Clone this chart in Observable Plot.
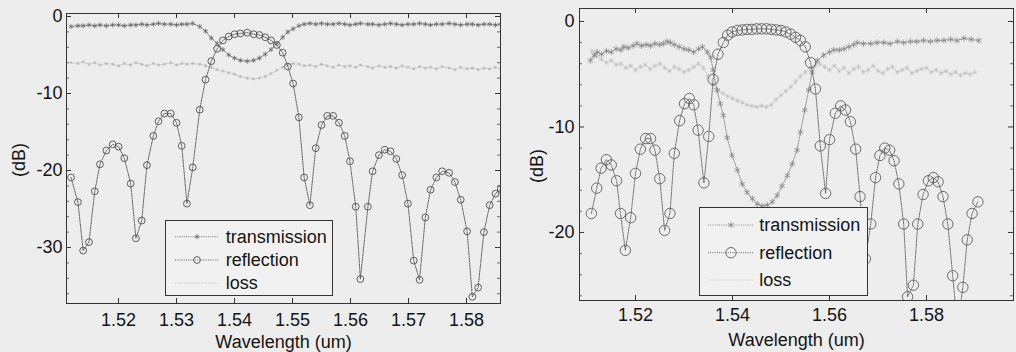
<!DOCTYPE html>
<html><head><meta charset="utf-8">
<script src="https://cdn.jsdelivr.net/npm/d3@7"></script>
<script src="https://cdn.jsdelivr.net/npm/@observablehq/plot@0.6"></script>
<style>
body{margin:0;background:#ededed;}
#wrap{position:relative;width:1016px;height:352px;background:#ededed;overflow:hidden;font-family:"Liberation Sans",Arial,sans-serif;}
#wrap svg{position:absolute;top:0;}
</style></head><body><div id="wrap"></div>
<script>
// ---------- LEFT PANEL DATA ----------
const wavelengthL = [1.5118,1.5130,1.5139,1.5149,1.5159,1.5168,1.5179,1.5190,1.5200,1.5210,1.5221,1.5230,1.5240,1.5249,1.5260,1.5269,1.5279,1.5290,1.5300,1.5309,1.5318,1.5328,
  1.5340,1.5350,1.5360,1.5370,1.5380,1.5390,1.5400,1.5410,1.5422,1.5433,1.5443,1.5453,1.5463,1.5473,1.5483,1.5492,1.5501,
  1.5511,1.5520,1.5530,1.5540,1.5550,1.5560,1.5570,1.5580,1.5590,1.5599,1.5609,1.5617,1.5630,1.5638,1.5649,1.5659,1.5669,1.5679,1.5689,1.5699,1.5709,1.5719,1.5729,1.5738,1.5748,1.5758,1.5770,1.5780,1.5790,1.5801,1.5810,1.5820,1.5830,1.5840,1.5850,1.5859];
const transmissionL = [-1.3,-1.2,-1.2,-1.1,-1.2,-1.1,-1.2,-1.1,-1.1,-1.2,-1.1,-1.1,-1.0,-1.1,-1.0,-0.9,-1.0,-1.0,-1.1,-1.0,-1.0,-0.9,
  -1.3,-1.9,-2.8,-3.5,-4.3,-5.0,-5.4,-5.7,-5.8,-5.7,-5.4,-4.9,-4.3,-3.5,-2.7,-2.0,-1.6,
  -1.2,-1.0,-0.9,-1.0,-0.9,-1.0,-1.0,-0.9,-1.0,-1.1,-1.0,-0.9,-1.0,-1.0,-1.1,-1.0,-0.9,-1.0,-1.1,-1.0,-1.0,-0.9,-1.0,-1.1,-1.0,-1.0,-0.9,-1.0,-1.1,-1.0,-1.0,-1.1,-1.0,-1.0,-1.1,-1.0];
const reflectionL = [-20.9,-24.1,-30.4,-29.3,-22.7,-19.2,-17.4,-16.6,-16.9,-18.4,-21.7,-28.8,-26.5,-19.3,-15.5,-13.6,-12.6,-12.6,-13.8,-16.8,-24.3,-19.6,
  -12.1,-8.2,-5.8,-4.2,-3.1,-2.6,-2.3,-2.2,-2.1,-2.3,-2.4,-2.7,-3.1,-3.7,-4.7,-6.5,-8.7,
  -13.1,-20.9,-24.5,-17.1,-14.1,-12.9,-12.9,-13.8,-15.5,-18.8,-24.7,-34.1,-24.7,-20.1,-18.0,-17.3,-17.5,-18.5,-20.6,-24.3,-31.7,-34.2,-26.1,-22.5,-20.9,-20.1,-20.3,-21.5,-23.8,-27.9,-36.4,-35.2,-28.0,-24.5,-23.0,-22.4];
const lossL = [-6.0,-6.1,-5.9,-6.2,-6.0,-6.3,-6.1,-6.2,-6.4,-6.1,-6.3,-6.0,-6.2,-6.4,-6.1,-6.3,-6.2,-6.0,-6.3,-6.1,-6.2,-6.1,
  -6.2,-6.4,-6.6,-6.9,-7.1,-7.3,-7.5,-7.8,-8.0,-8.1,-8.0,-7.8,-7.4,-7.0,-6.6,-6.3,-6.1,
  -6.2,-6.4,-6.3,-6.5,-6.2,-6.4,-6.6,-6.3,-6.5,-6.4,-6.6,-6.3,-6.5,-6.7,-6.4,-6.6,-6.5,-6.7,-6.4,-6.6,-6.8,-6.5,-6.7,-6.6,-6.8,-6.5,-6.7,-6.9,-6.6,-6.8,-6.7,-6.9,-6.7,-6.8,-6.6,-6.8];
const xTicksL = [1.52,1.53,1.54,1.55,1.56,1.57,1.58];
const yTicksL = [0,-10,-20,-30];
const yMinorL = [-2,-4,-6,-8,-12,-14,-16,-18,-22,-24,-26,-28,-32,-34,-36];

// ---------- RIGHT PANEL DATA ----------
const wavelengthRr = [1.5109,1.5120,1.5129,1.5140,1.5150,1.5161,1.5169,1.5179,1.5190,1.5200,1.5210,1.5221,1.5231,1.5240,1.5250,1.5260,1.5271,1.5280,1.5291,1.5301,
  1.5311,1.5320,1.5329,1.5341,1.5351,1.5360,1.5370,1.5381,1.5390,1.5399,1.5410,1.5420,1.5430,1.5440,1.5450,1.5460,1.5470,1.5480,1.5490,1.5500,
  1.5510,1.5520,1.5530,1.5540,1.5550,1.5561,1.5571,1.5581,1.5592,1.5600,1.5612,1.5623,1.5633,1.5643,1.5654,1.5663,1.5674,1.5685,1.5695,1.5704,
  1.5714,1.5724,1.5733,1.5743,1.5753,1.5761,1.5773,1.5782,1.5793,1.5804,1.5814,1.5824,1.5834,1.5844,1.5854,1.5864,1.5875,1.5884,1.5894,1.5906];
const reflectionR = [-18.2,-15.8,-13.9,-13.1,-13.6,-15.1,-18.2,-21.7,-18.6,-14.4,-12.1,-11.1,-11.1,-12.2,-14.9,-19.8,-18.2,-12.5,-9.4,-7.8,
  -7.3,-7.9,-10.3,-15.3,-10.9,-5.5,-3.1,-2.0,-1.3,-1.0,-0.85,-0.8,-0.75,-0.75,-0.7,-0.7,-0.7,-0.75,-0.8,-0.85,
  -1.0,-1.2,-1.5,-1.8,-2.4,-3.9,-6.4,-11.8,-16.3,-11.2,-8.7,-8.0,-8.4,-9.5,-12.1,-16.6,-22.5,-19.2,-14.8,-12.7,
  -12.0,-12.2,-13.2,-15.4,-19.2,-26.1,-25.0,-19.2,-16.4,-15.1,-14.8,-15.2,-16.6,-19.2,-24.1,-29.0,-25.2,-20.7,-18.2,-17.1];
const wavelengthRt = [1.5107,1.5115,1.5121,1.5130,1.5140,1.5150,1.5160,1.5170,1.5176,1.5185,1.5195,1.5203,1.5212,1.5222,1.5231,1.5240,1.5250,1.5258,1.5265,1.5272,
  1.5280,1.5290,1.5300,1.5310,1.5320,1.5330,1.5338,1.5348,1.5355,1.5360,1.5368,1.5375,1.5381,1.5389,1.5399,1.5410,1.5420,1.5430,1.5441,1.5451,
  1.5461,1.5472,1.5482,1.5492,1.5502,1.5513,1.5523,1.5533,1.5540,1.5549,1.5557,1.5564,1.5575,1.5588,1.5600,1.5609,1.5620,1.5630,1.5640,1.5650,
  1.5657,1.5670,1.5685,1.5698,1.5712,1.5725,1.5740,1.5753,1.5767,1.5780,1.5794,1.5808,1.5822,1.5836,1.5850,1.5863,1.5877,1.5892,1.5908];
const transmissionR = [-3.7,-3.2,-2.9,-3.1,-2.8,-2.9,-2.6,-2.7,-2.4,-2.5,-2.3,-2.1,-2.3,-2.2,-2.3,-2.1,-2.2,-2.1,-1.9,-2.0,
  -2.2,-2.4,-2.6,-2.7,-2.9,-2.6,-2.4,-2.9,-3.4,-4.6,-6.5,-7.8,-8.9,-11.0,-12.7,-14.1,-15.4,-16.2,-16.8,-17.3,
  -17.5,-17.4,-17.1,-16.5,-15.6,-14.6,-13.5,-12.2,-10.5,-8.4,-6.5,-4.8,-3.7,-3.2,-2.9,-2.7,-2.7,-2.6,-2.4,-2.2,
  -2.0,-2.1,-2.1,-2.0,-2.0,-2.1,-1.9,-2.0,-1.9,-1.9,-1.8,-1.9,-1.8,-1.8,-1.7,-1.8,-1.6,-1.7,-1.8];
const wavelengthRl = [1.5110,1.5120,1.5130,1.5140,1.5150,1.5160,1.5170,1.5180,1.5190,1.5200,1.5210,1.5220,1.5230,1.5240,1.5250,1.5260,1.5270,1.5280,1.5290,1.5300,
  1.5310,1.5320,1.5330,1.5340,1.5350,1.5360,1.5370,1.5380,1.5390,1.5400,1.5410,1.5420,1.5430,1.5440,1.5450,1.5460,1.5470,1.5480,1.5490,1.5500,
  1.5510,1.5520,1.5530,1.5540,1.5550,1.5560,1.5570,1.5580,1.5590,1.5600,1.5610,1.5620,1.5630,1.5640,1.5650,1.5660,1.5670,1.5680,1.5690,1.5700,
  1.5710,1.5720,1.5730,1.5740,1.5750,1.5760,1.5770,1.5780,1.5790,1.5800,1.5810,1.5820,1.5830,1.5840,1.5850,1.5860,1.5870,1.5880,1.5890,1.5900];
const lossR = [-2.8,-3.3,-3.6,-3.9,-3.7,-4.1,-4.0,-4.4,-4.2,-4.6,-4.3,-4.1,-4.5,-4.2,-4.0,-4.4,-4.7,-4.3,-4.5,-4.8,
  -4.6,-4.3,-4.0,-4.4,-5.2,-6.0,-6.5,-6.8,-7.1,-7.3,-7.5,-7.7,-7.9,-8.0,-8.1,-8.0,-8.1,-7.9,-7.4,-7.0,
  -6.6,-6.2,-5.7,-5.2,-4.8,-4.4,-4.2,-4.0,-4.3,-4.6,-4.2,-4.7,-4.4,-4.9,-4.5,-4.3,-4.8,-4.6,-4.2,-4.7,
  -4.9,-4.5,-4.3,-4.8,-4.6,-4.4,-4.9,-4.7,-4.5,-4.4,-4.8,-4.6,-4.9,-4.7,-5.0,-4.8,-5.1,-4.9,-5.0,-4.8];
const xTicksR = [1.52,1.54,1.56,1.58];
const yTicksR = [0,-10,-20];
const yMinorR = [-2,-4,-6,-8,-12,-14,-16,-18,-22,-24,-26];

const legendLabels = ["transmission","reflection","loss"];
const xLabel = "Wavelength (um)";
const yLabel = "(dB)";

function rows(xs, ys) { return xs.map((x, i) => ({x, y: ys[i]})).filter(d => d.y !== undefined); }

const AX = "#333";
const TXT = "#141414";
const FONT = '"Liberation Sans", Arial, sans-serif';
function panel(o) {
  const fw = o.width - o.ml - o.mr, fh = o.height - o.mt - o.mb;
  const marks = [
    // loss
    Plot.line(rows(o.wl, o.loss), {x:"x", y:"y", stroke:o.lossColor, strokeWidth:0.8, strokeDasharray:"1,1.5", clip:true}),
    Plot.dot(rows(o.wl, o.loss), {x:"x", y:"y", symbol:"asterisk", r:o.lossR, stroke:o.lossColor, strokeWidth:0.7, clip:true}),
    // transmission
    Plot.line(rows(o.wt, o.trans), {x:"x", y:"y", stroke:o.transColor, strokeWidth:0.9, strokeDasharray:"1,1.2", clip:true}),
    Plot.dot(rows(o.wt, o.trans), {x:"x", y:"y", symbol:"asterisk", r:o.transR, stroke:o.transColor, strokeWidth:0.8, clip:true}),
    // reflection
    Plot.line(rows(o.wr, o.refl), {x:"x", y:"y", stroke:o.reflColor, strokeWidth:0.9, strokeDasharray:"1.2,1.2", clip:true}),
    Plot.dot(rows(o.wr, o.refl), {x:"x", y:"y", r:o.reflR, stroke:o.reflColor, fill:"none", strokeWidth:0.9, clip:true}),
    // frame & inward ticks
    Plot.frame({stroke:AX, strokeWidth:1}),
    Plot.tickX(o.xticks, {x:d=>d, insetTop:fh-5, stroke:AX}),
    Plot.tickX(o.xticks, {x:d=>d, insetBottom:fh-5, stroke:AX}),
    Plot.tickY(o.yticks, {y:d=>d, insetRight:fw-5, stroke:AX}),
    Plot.tickY(o.yticks, {y:d=>d, insetLeft:fw-5, stroke:AX}),
    Plot.tickY(o.yminor, {y:d=>d, insetRight:fw-3, stroke:AX, strokeWidth:0.7}),
    Plot.tickY(o.yminor, {y:d=>d, insetLeft:fw-3, stroke:AX, strokeWidth:0.7}),
    // tick labels
    Plot.text(o.xticks, {x:d=>d, frameAnchor:"bottom", lineAnchor:"top", dy:o.xpad, text:d3.format(".2f"), fontSize:18, fill:TXT}),
    Plot.text(o.yticks, {y:d=>d, frameAnchor:"left", textAnchor:"end", dx:-o.ypad, text:d=>String(d), fontSize:18, fill:TXT}),
    // x label
    Plot.text([xLabel], {frameAnchor:"bottom", dy:o.xlabDy, text:d=>d, fontSize:18, fill:TXT})
  ];
  const svg = Plot.plot({
    width:o.width, height:o.height,
    marginLeft:o.ml, marginRight:o.mr, marginTop:o.mt, marginBottom:o.mb,
    x:{domain:o.xdomain, axis:null}, y:{domain:o.ydomain, axis:null},
    style:{fontFamily:FONT, fontSize:"18px", background:"transparent", color:"#222"},
    marks
  });
  svg.style.left = o.left + "px";
  // rotated y label, centred beside the frame
  const s = d3.select(svg);
  s.append("text")
    .attr("transform", `translate(${o.ml + o.ylabDx},${o.mt + fh / 2 + o.ylabDy}) rotate(-90)`)
    .attr("text-anchor", "middle").attr("dy", "0.35em")
    .attr("font-size", 18).attr("fill", TXT).attr("font-family", FONT)
    .text(yLabel);
  return svg;
}

function legend(o) {
  const svg = d3.select("#wrap").append("svg")
    .attr("width", o.w).attr("height", o.h)
    .style("left", o.x + "px").style("top", o.y + "px");
  svg.append("rect").attr("x",0.5).attr("y",0.5).attr("width",o.w-1).attr("height",o.h-1)
    .attr("fill","#f1f1f1").attr("stroke",AX);
  const styles = [
    {color:o.transColor, sym:"asterisk", r:o.transR},
    {color:o.reflColor, sym:"circle", r:o.reflR},
    {color:o.lossColor, sym:null}
  ];
  legendLabels.forEach((lab, i) => {
    const cy = o.rows[i], s = styles[i];
    svg.append("line").attr("x1",o.l1).attr("x2",o.l2).attr("y1",cy).attr("y2",cy)
      .attr("stroke",s.color).attr("stroke-width",0.9).attr("stroke-dasharray","1,1.2");
    if (s.sym === "circle") {
      svg.append("circle").attr("cx",o.mx).attr("cy",cy).attr("r",s.r).attr("fill","none").attr("stroke",s.color).attr("stroke-width",0.9);
    } else if (s.sym === "asterisk") {
      svg.append("path").attr("transform",`translate(${o.mx},${cy})`)
        .attr("d", d3.symbol(d3.symbolAsterisk, Math.PI * s.r * s.r)())
        .attr("stroke",s.color).attr("stroke-width",0.8).attr("fill","none");
    }
    svg.append("text").attr("x",o.tx).attr("y",cy).attr("dy","0.35em")
      .attr("font-size",18).attr("fill",TXT)
      .attr("font-family",FONT).text(lab);
  });
}

const wrap = document.getElementById("wrap");
wrap.appendChild(panel({
  left:0, width:508, height:352, ml:66, mr:8, mt:13, mb:49,
  xdomain:[1.51103,1.58586], ydomain:[-37.27,0.39],
  wl:wavelengthL, wt:wavelengthL, wr:wavelengthL,
  loss:lossL, trans:transmissionL, refl:reflectionL,
  lossColor:"#b4b4b4", transColor:"#686868", reflColor:"#4e4e4e",
  lossR:1.6, transR:2.4, reflR:3.4,
  xticks:xTicksL, yticks:yTicksL, yminor:yMinorL,
  xpad:10, ypad:4, xlabDy:44, ylabDx:-47, ylabDy:2
}));
wrap.appendChild(panel({
  left:508, width:508, height:352, ml:71, mr:3, mt:8, mb:52,
  xdomain:[1.50845,1.59794], ydomain:[-26.45,1.23],
  wl:wavelengthRl, wt:wavelengthRt, wr:wavelengthRr,
  loss:lossR, trans:transmissionR, refl:reflectionR,
  lossColor:"#bdbdbd", transColor:"#858585", reflColor:"#5c5c5c",
  lossR:2.4, transR:3, reflR:5.2,
  xticks:xTicksR, yticks:yTicksR, yminor:yMinorR,
  xpad:8, ypad:5, xlabDy:45, ylabDx:-42, ylabDy:12
}));
legend({x:165, y:220, w:168, h:76, rows:[16.7,40,63], l1:10, l2:53, mx:32, tx:60.7,
  lossColor:"#b4b4b4", transColor:"#686868", reflColor:"#4e4e4e", transR:2.4, reflR:3.4});
legend({x:699, y:207, w:169, h:89, rows:[18,45.7,73], l1:9, l2:54, mx:32, tx:60.3,
  lossColor:"#bdbdbd", transColor:"#858585", reflColor:"#5c5c5c", transR:3, reflR:5.2});
</script></body></html>
